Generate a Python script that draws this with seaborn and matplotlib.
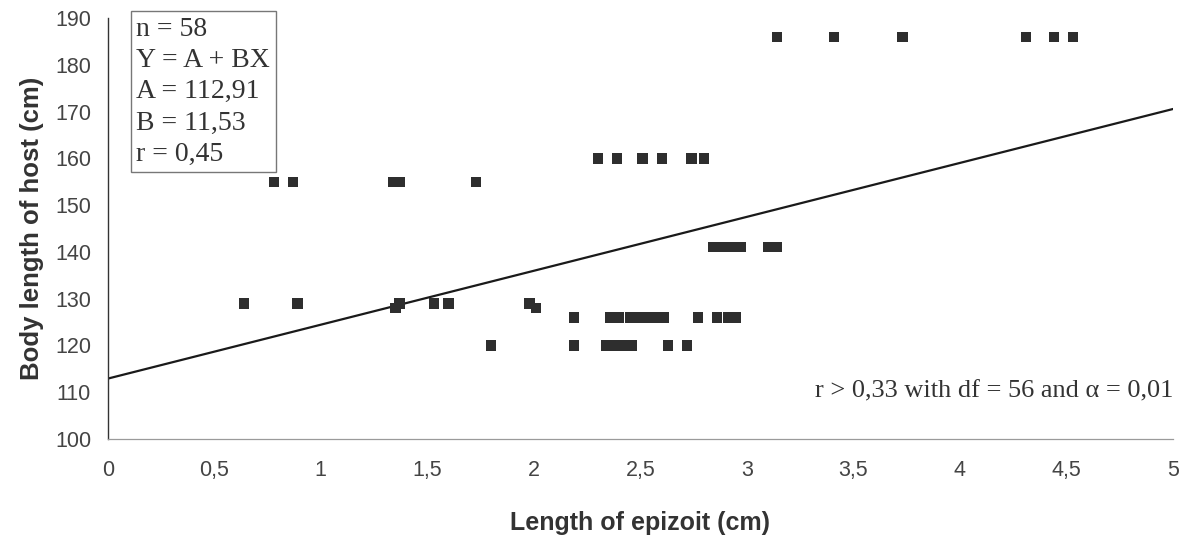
import matplotlib
matplotlib.use("Agg")
import matplotlib.pyplot as plt
import numpy as np
import pandas as pd
import seaborn as sns

# Length of epizoit (cm) and body length of host (cm)
epizoit = [
    3.14, 3.41, 3.73, 4.31, 4.44, 4.53,
    2.30, 2.39, 2.51, 2.60, 2.74, 2.80,
    0.78, 0.87, 1.34, 1.37, 1.73,
    2.84, 2.89, 2.93, 2.97, 3.10, 3.14,
    0.64, 0.89, 1.37, 1.53, 1.60, 1.98, 1.35, 2.01,
    2.19, 2.36, 2.40, 2.45, 2.49, 2.53, 2.57, 2.61, 2.77, 2.86, 2.91, 2.95,
    1.80, 2.19, 2.34, 2.38, 2.43, 2.46, 2.63, 2.72,
]
host = [
    186, 186, 186, 186, 186, 186,
    160, 160, 160, 160, 160, 160,
    155, 155, 155, 155, 155,
    141, 141, 141, 141, 141, 141,
    129, 129, 129, 129, 129, 129, 128, 128,
    126, 126, 126, 126, 126, 126, 126, 126, 126, 126, 126, 126,
    120, 120, 120, 120, 120, 120, 120, 120,
]

# regression given on the chart
A = 112.91
B = 11.53
x_ticks = [0, 0.5, 1, 1.5, 2, 2.5, 3, 3.5, 4, 4.5, 5]
y_ticks = list(range(100, 191, 10))

df = pd.DataFrame({"epizoit": epizoit, "host": host})

sns.set_style("white")
plt.rcParams["font.family"] = ["Liberation Sans", "DejaVu Sans"]

fig = plt.figure(figsize=(11.97, 5.39), dpi=100)
ax = fig.add_axes([0.090, 0.1855, 0.890, 0.781])

sns.scatterplot(data=df, x="epizoit", y="host", marker="s", s=55,
                color="#2e2e2e", edgecolor="none", ax=ax, zorder=3)

line_x = np.array([x_ticks[0], x_ticks[-1]])
ax.plot(line_x, A + B * line_x, color="#1a1a1a", lw=1.6, zorder=2)

ax.set_xlim(0, 5)
ax.set_ylim(100, 190)
ax.set_xticks(x_ticks)
ax.set_xticklabels([f"{t:g}".replace(".", ",") for t in x_ticks])
ax.set_yticks(y_ticks)
ax.tick_params(axis="both", direction="inout", length=6, width=0.8,
               color="#555555", labelcolor="#444444")
ax.tick_params(axis="x", pad=12, labelsize=15.5)
ax.tick_params(axis="y", pad=9, labelsize=15.5)

for side in ["top", "right"]:
    ax.spines[side].set_visible(False)
ax.spines["left"].set_color("#333333")
ax.spines["left"].set_linewidth(1.0)
ax.spines["bottom"].set_color("#9a9a9a")
ax.spines["bottom"].set_linewidth(0.9)

ax.set_xlabel("Length of epizoit (cm)", fontsize=18, fontweight="bold",
              color="#333333", labelpad=22)
ax.set_ylabel("Body length of host (cm)", fontsize=18.5, fontweight="bold",
              color="#333333", labelpad=8)

serif = ["Liberation Serif", "DejaVu Serif"]
box_text = "n = 58\nY = A + BX\nA = 112,91\nB = 11,53\nr = 0,45"
ax.text(0.027, 1.003, box_text, transform=ax.transAxes, ha="left", va="top",
        fontsize=20, family=serif, color="#333333", linespacing=1.33,
        bbox=dict(boxstyle="square,pad=0.2", facecolor="white",
                  edgecolor="#777777", linewidth=1.0), zorder=4)

ax.text(1.0, 0.112, "r > 0,33 with df = 56 and α = 0,01", transform=ax.transAxes,
        ha="right", va="center", fontsize=19, family=serif, color="#333333")

fig.savefig("out.png", dpi=100)
